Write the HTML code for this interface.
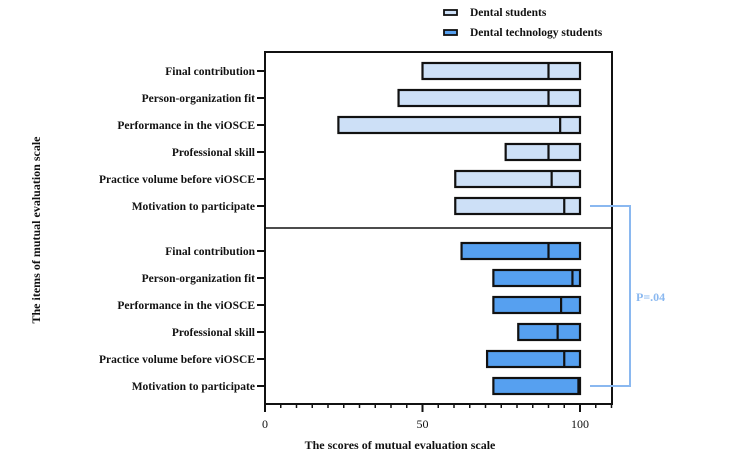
<!DOCTYPE html>
<html><head><meta charset="utf-8"><style>
body{margin:0;background:#fff}
svg text{font-family:"Liberation Serif",serif;font-weight:bold;fill:#111}
</style></head><body>
<svg id="c" width="733" height="456" xmlns="http://www.w3.org/2000/svg"></svg>
<script>
const categories=["Final contribution","Person-organization fit","Performance in the viOSCE","Professional skill","Practice volume before viOSCE","Motivation to participate"];
const dentalMin=[50,42.4,23.3,76.4,60.4,60.4];
const dentalMedian=[90,90,93.7,90,91,95];
const dentalMax=[100,100,100,100,100,100];
const techMin=[62.4,72.5,72.5,80.4,70.5,72.5];
const techMedian=[90,97.6,94,92.9,95,99.5];
const techMax=[100,100,100,100,100,100];
const xTicks=[0,50,100];

const svg=document.getElementById('c');
const NS='http://www.w3.org/2000/svg';
const x=v=>265+v*3.15;
const yTop=i=>71+i*27;
const yBot=i=>251+i*27;
function mk(t,a,name,parent){const e=document.createElementNS(NS,t);for(const k in a)e.setAttribute(k,a[k]);


(parent||svg).appendChild(e);return e;}

// frame
mk('rect',{x:265,y:52,width:347,height:352,fill:'none',stroke:'#111','stroke-width':2},'plot-frame');
mk('line',{x1:265,y1:228,x2:612,y2:228,stroke:'#111','stroke-width':1.5},'group-divider');
// x ticks
for(let v=0;v<=110;v+=5){const major=xTicks.includes(v);
mk('line',{x1:x(v),y1:404,x2:x(v),y2:major?412:408,stroke:'#111','stroke-width':major?2:1.5},'x-tick');}
xTicks.forEach(v=>{const t=mk('text',{x:x(v),y:428,'text-anchor':'middle','font-size':12,style:'font-weight:normal'},'x-tick-label');t.textContent=v;});
const xt=mk('text',{x:400,y:449,'text-anchor':'middle','font-size':12},'x-axis-title');xt.textContent='The scores of mutual evaluation scale';
const yt=mk('text',{x:0,y:0,'text-anchor':'middle','font-size':12,transform:'translate(40,230) rotate(-90)'},'y-axis-title');yt.textContent='The items of mutual evaluation scale';

function group(mins,meds,maxs,yf,fill,tag){
categories.forEach((c,i)=>{const y=yf(i);
mk('line',{x1:257,y1:y,x2:265,y2:y,stroke:'#111','stroke-width':2},'y-tick');
const t=mk('text',{x:255,y:y+4,'text-anchor':'end','font-size':11.5},'y-label-'+tag);t.textContent=c;
mk('rect',{x:x(mins[i]),y:y-8,width:x(maxs[i])-x(mins[i]),height:16,fill:fill,stroke:'#111','stroke-width':2.2},'bar-'+tag);
mk('line',{x1:x(meds[i]),y1:y-8,x2:x(meds[i]),y2:y+8,stroke:'#111','stroke-width':2.2},'median-'+tag);
});}
group(dentalMin,dentalMedian,dentalMax,yTop,'#cde0f7','dental');
group(techMin,techMedian,techMax,yBot,'#56a0f0','tech');

// bracket
mk('polyline',{points:`590,${yTop(5)} 630,${yTop(5)} 630,${yBot(5)} 590,${yBot(5)}`,fill:'none',stroke:'#8ab8f0','stroke-width':2},'significance-bracket');
const p=mk('text',{x:636,y:301,'font-size':12,style:'fill:#8ab8f0'},'p-value-label');p.textContent='P=.04';

// legend
mk('rect',{x:444,y:10,width:13,height:5,fill:'#cde0f7',stroke:'#111','stroke-width':1.8},'legend-swatch-dental');
const l1=mk('text',{x:470,y:16,'font-size':11.5},'legend-entry-dental');l1.textContent='Dental students';
mk('rect',{x:444,y:30,width:13,height:5,fill:'#56a0f0',stroke:'#111','stroke-width':1.8},'legend-swatch-tech');
const l2=mk('text',{x:470,y:36,'font-size':11.5},'legend-entry-tech');l2.textContent='Dental technology students';
</script>
</body></html>
